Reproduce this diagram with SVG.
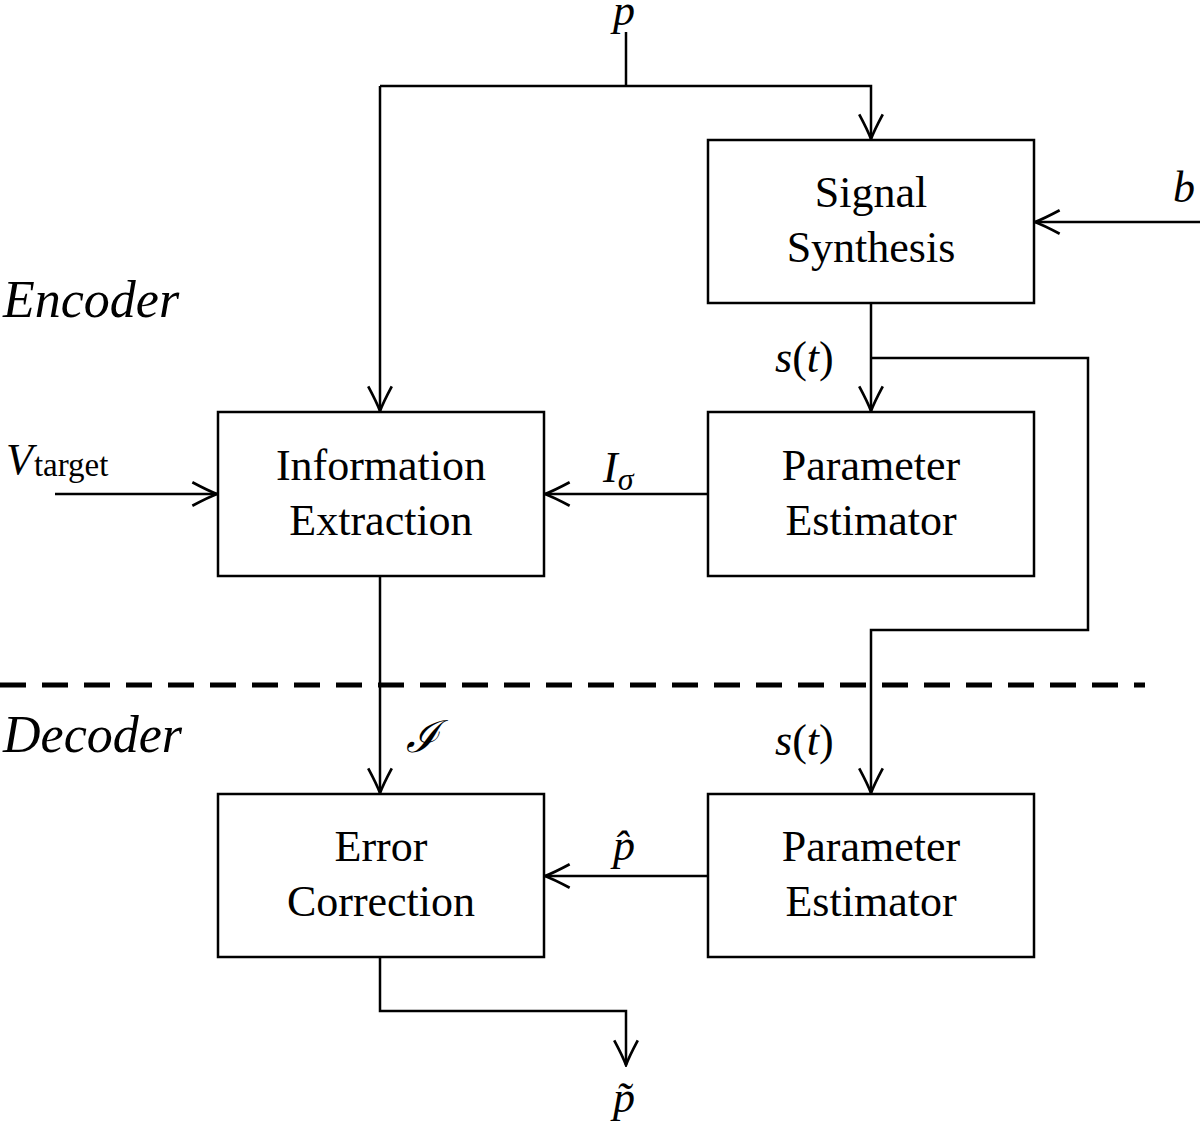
<svg xmlns="http://www.w3.org/2000/svg" width="1200" height="1128" viewBox="0 0 1200 1128">
<style>
.box{fill:#fff;stroke:#000;stroke-width:2.5}
.ln{fill:none;stroke:#000;stroke-width:2.5}
.t{font-family:"Liberation Serif","Times New Roman",serif;font-size:44px;text-anchor:middle;fill:#000}
.m{font-family:"Liberation Serif","Times New Roman",serif;font-style:italic;font-size:44px;fill:#000}
.lbl{font-family:"Liberation Serif","Times New Roman",serif;font-style:italic;font-size:52px;fill:#000}
</style>
<defs>
<marker id="ar" markerUnits="userSpaceOnUse" markerWidth="30" markerHeight="30" viewBox="-26 -13 28 26" refX="0" refY="0" orient="auto">
<path d="M-23,-11 Q-8,-3 0,0 Q-8,3 -23,11" fill="none" stroke="#000" stroke-width="2.5"/>
</marker>
</defs>
<rect width="1200" height="1128" fill="#fff"/>
<g id="connectors">
<path class="ln" d="M626,32 V86"/>
<path class="ln" d="M380,86 H871 V139" marker-end="url(#ar)"/>
<path class="ln" d="M380,86 V411" marker-end="url(#ar)"/>
<path class="ln" d="M1200,222 H1035" marker-end="url(#ar)"/>
<path class="ln" d="M871,303 V411" marker-end="url(#ar)"/>
<path class="ln" d="M871,358 H1088 V630 H871 V793" marker-end="url(#ar)"/>
<path class="ln" d="M55,494 H217" marker-end="url(#ar)"/>
<path class="ln" d="M708,494 H545" marker-end="url(#ar)"/>
<path class="ln" d="M380,576 V793" marker-end="url(#ar)"/>
<path class="ln" d="M708,876 H545" marker-end="url(#ar)"/>
<path class="ln" d="M380,957 V1011 H626 V1065" marker-end="url(#ar)"/>
<path d="M0,685 H1145" fill="none" stroke="#000" stroke-width="5" stroke-dasharray="26,16"/>
</g>
<g id="signal-synthesis">
<rect class="box" x="708" y="140" width="326" height="163"/>
<text class="t" x="871" y="207">Signal</text>
<text class="t" x="871" y="262">Synthesis</text>
</g>
<g id="information-extraction">
<rect class="box" x="218" y="412" width="326" height="164"/>
<text class="t" x="381" y="480">Information</text>
<text class="t" x="381" y="535">Extraction</text>
</g>
<g id="parameter-estimator-enc">
<rect class="box" x="708" y="412" width="326" height="164"/>
<text class="t" x="871" y="480">Parameter</text>
<text class="t" x="871" y="535">Estimator</text>
</g>
<g id="error-correction">
<rect class="box" x="218" y="794" width="326" height="163"/>
<text class="t" x="381" y="861">Error</text>
<text class="t" x="381" y="916">Correction</text>
</g>
<g id="parameter-estimator-dec">
<rect class="box" x="708" y="794" width="326" height="163"/>
<text class="t" x="871" y="861">Parameter</text>
<text class="t" x="871" y="916">Estimator</text>
</g>
<g id="labels">
<text class="lbl" x="3" y="317">Encoder</text>
<text class="lbl" x="3" y="752">Decoder</text>
<text class="m" x="613" y="25" font-size="40px">p</text>
<text class="m" x="1173" y="202">b</text>
<text class="m" x="775" y="372">s<tspan font-style="normal">(</tspan>t<tspan font-style="normal">)</tspan></text>
<text class="m" x="775" y="755">s<tspan font-style="normal">(</tspan>t<tspan font-style="normal">)</tspan></text>
<text class="m" x="6" y="474" font-size="46px">V<tspan font-style="normal" font-size="33px" dx="1" dy="2">target</tspan></text>
<text class="m" x="603" y="482">I<tspan font-size="32px" dy="8">σ</tspan></text>
<text class="m" x="406" y="752" font-family="'DejaVu Serif',serif" font-size="34px">ℐ</text>
<text class="m" x="613" y="860">p̂</text>
<text class="m" x="613" y="1112">p̃</text>
</g>
</svg>
